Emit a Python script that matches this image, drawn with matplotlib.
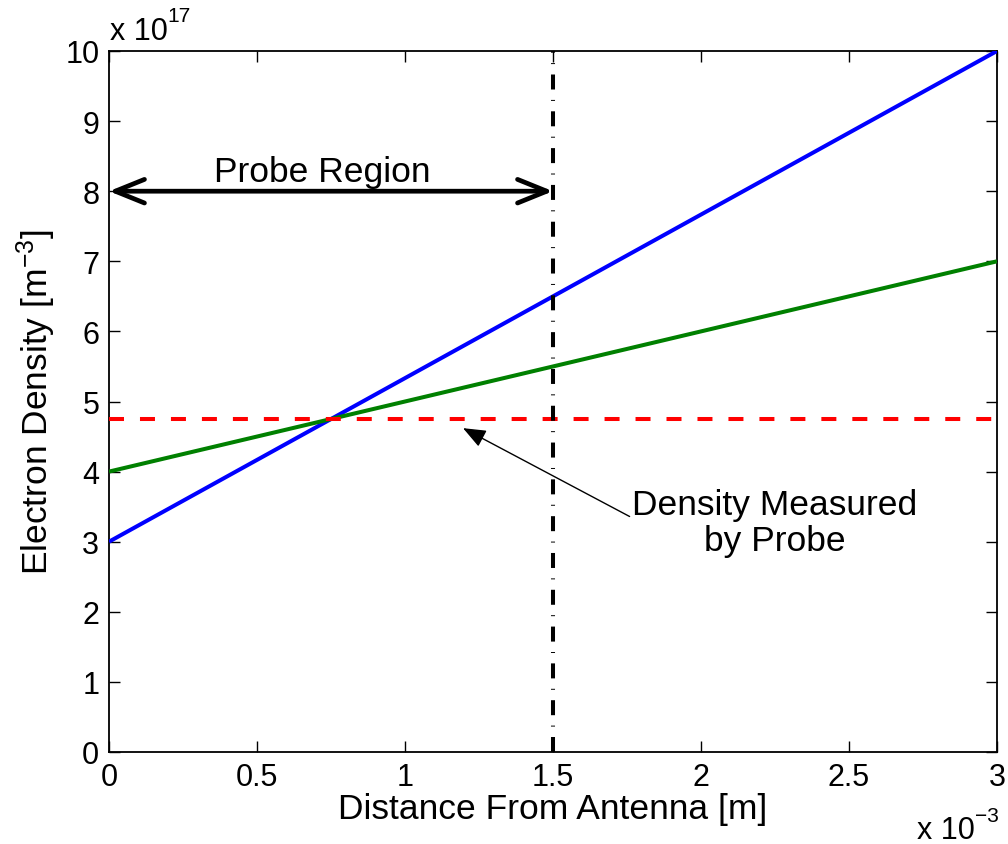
import matplotlib
matplotlib.use("Agg")
import matplotlib.pyplot as plt
from matplotlib.ticker import FuncFormatter

plt.rcParams['font.family'] = ['Liberation Sans', 'DejaVu Sans']
plt.rcParams['mathtext.fontset'] = 'custom'
plt.rcParams['mathtext.rm'] = 'Liberation Sans'
plt.rcParams['mathtext.it'] = 'Liberation Sans:italic'
plt.rcParams['mathtext.default'] = 'regular'
plt.rcParams['lines.scale_dashes'] = False

# Distance from antenna [m] and electron density profiles [m^-3]
distance = [0.0, 3.0e-3]
density_steep = [3.0e17, 10.0e17]
density_shallow = [4.0e17, 7.0e17]
density_probe = 4.75e17
probe_edge = 1.5e-3

x_ticks = [0, 0.5e-3, 1.0e-3, 1.5e-3, 2.0e-3, 2.5e-3, 3.0e-3]
y_ticks = [i * 1e17 for i in range(11)]

W, H = 1008, 845
fig = plt.figure(figsize=(W / 100, H / 100), dpi=100)
ax = fig.add_axes([109 / W, 1 - 753 / H, (997 - 109) / W, (753 - 52) / H])

ax.plot(distance, density_steep, color=(0, 0, 1), lw=2.9, solid_capstyle='butt', zorder=3)
ax.plot(distance, density_shallow, color=(0, 0.5, 0), lw=2.9, solid_capstyle='butt', zorder=3)
ax.plot(distance, [density_probe, density_probe], color=(1, 0, 0), lw=2.9,
        dashes=(10.8, 11.5), dash_capstyle='butt', zorder=3)
ax.plot([probe_edge, probe_edge], [0, 10e17], color='black', lw=2.9,
        dashes=(10.8, 7.5, 0.7, 7.5), dash_capstyle='butt', zorder=4)

# Probe region span
ax.annotate('', xy=(0, 8e17), xytext=(probe_edge, 8e17),
            arrowprops=dict(arrowstyle='<->,head_length=2.1,head_width=0.85',
                            lw=3.4, color='black', shrinkA=0, shrinkB=0,
                            mutation_scale=10),
            zorder=5, annotation_clip=False)
ax.text(0.72e-3, 8.28e17, 'Probe Region', fontsize=25.5, ha='center', va='center')

# Pointer to the measured density
ax.annotate('Density Measured\nby Probe', xy=(1.196e-3, 4.62e17), xytext=(2.25e-3, 3.27e17),
            fontsize=25.5, ha='center', va='center', linespacing=1.1,
            arrowprops=dict(arrowstyle='-|>,head_length=0.55,head_width=0.22',
                            lw=1.0, color='black', shrinkA=0, shrinkB=0,
                            relpos=(0.0, 0.57)))

ax.set_xlim(0, 3e-3)
ax.set_ylim(0, 10e17)
ax.set_xticks(x_ticks)
ax.set_yticks(y_ticks)
ax.xaxis.set_major_formatter(FuncFormatter(lambda v, p: '%g' % round(v * 1e3, 6)))
ax.yaxis.set_major_formatter(FuncFormatter(lambda v, p: '%g' % round(v / 1e17, 6)))
ax.tick_params(direction='in', length=8, width=1, top=True, right=True,
               labelsize=22, pad=7)
for s in ax.spines.values():
    s.set_linewidth(1.3)

ax.set_xlabel('Distance From Antenna [m]', fontsize=25.5, labelpad=0)
ax.set_ylabel('Electron Density [m$^{-3}$]', fontsize=25.5, labelpad=5)

# Axis multipliers
fig.text(110 / W, 1 - 40 / H, 'x 10', fontsize=22, ha='left', va='baseline')
fig.text(167 / W, 1 - 22 / H, '17', fontsize=15, ha='left', va='baseline')
fig.text(917 / W, 1 - 839 / H, 'x 10', fontsize=22, ha='left', va='baseline')
fig.text(975 / W, 1 - 822 / H, '\u22123', fontsize=15, ha='left', va='baseline')

fig.savefig('out.png', dpi=100, facecolor='white')
